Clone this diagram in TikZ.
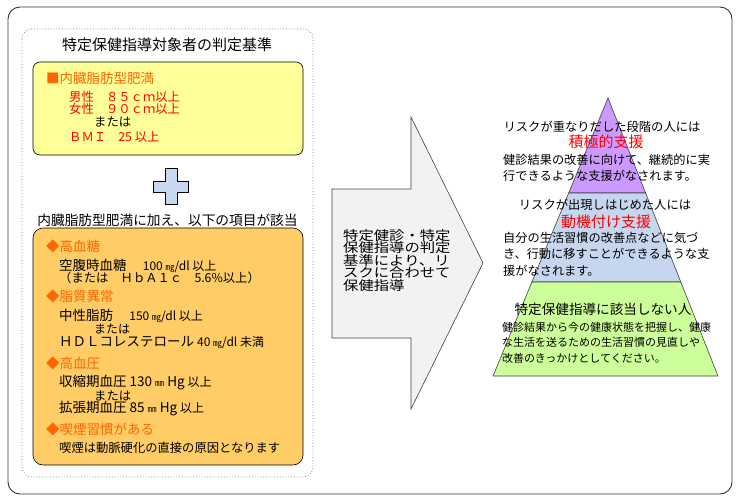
\documentclass[tikz,border=0pt]{standalone}
\usepackage{fontspec}
\setmainfont{Noto Sans CJK JP}
\newfontfamily\widefont{Noto Sans CJK JP}[FakeStretch=1.18]
\definecolor{yellowbox}{HTML}{FFFF99}
\definecolor{orangebox}{HTML}{FFCC66}
\definecolor{headorange}{HTML}{FF6600}
\definecolor{plusblue}{HTML}{C6D9F1}
\definecolor{pyrpurple}{HTML}{CC99FF}
\definecolor{pyrblue}{HTML}{C6D6EE}
\definecolor{pyrgreen}{HTML}{CCFF99}
\definecolor{arrowgray}{HTML}{F2F2F2}
\newcommand{\numsize}{\fontsize{12}{14}\selectfont}
\newcommand{\unitsize}{\fontsize{9}{11}\selectfont}
\newcommand{\tightlines}{\lineskiplimit=-20pt\relax\lineskip=0pt\relax}

\begin{document}
\begin{tikzpicture}[x=1pt, y=-1pt,
  linetext/.style={anchor=west, inner sep=0pt, font=\fontsize{13.5}{16}\selectfont},
  headtext/.style={linetext, text=headorange},
  redtext/.style={linetext, text=red, font=\fontsize{12.3}{14}\selectfont},
  smalltext/.style={linetext, font=\fontsize{12.3}{14}\selectfont},
  pyrline/.style={inner sep=0pt, font=\fontsize{12.3}{14}\selectfont},
  pyrhead/.style={inner sep=0pt, text=red, font=\fontsize{15}{17}\selectfont},
  pyrbody/.style={anchor=north west, inner sep=0pt, align=left},
  band/.style={draw=black!75, line width=0.6pt}]
\useasboundingbox (0,0) rectangle (739,501);
% frames
\draw[black!80, line width=0.9pt, rounded corners=12pt] (8,7) rectangle (732,494);
\draw[black!50, dotted, line width=0.8pt, rounded corners=10pt] (22,29) rectangle (313,477);
\node[inner sep=0pt, font=\fontsize{15}{17}\selectfont] (title) at (167,45) {特定保健指導対象者の判定基準};
% obesity box
\draw[fill=yellowbox, line width=0.6pt, rounded corners=7pt] (33,62) rectangle (303,155);
\node[headtext] (himan) at (46,78) {■内臓脂肪型肥満};
\node[redtext] (dansei) at (69,97) {男性　８５ｃｍ以上};
\node[redtext] (josei) at (69,109) {女性　９０ｃｍ以上};
\node[smalltext] (mata1) at (94,122) {または};
\node[redtext] (bmi) at (69,137) {ＢＭＩ　25 以上};
% plus sign
\draw[fill=plusblue, line width=0.6pt] (165,168) -- (177,168) -- (177,181) -- (188,181) -- (188,192) -- (177,192)
  -- (177,204) -- (165,204) -- (165,192) -- (153,192) -- (153,181) -- (165,181) -- cycle;
\node[inner sep=0pt, font=\fontsize{13.7}{16}\selectfont] (kuwae) at (167.5,220) {内臓脂肪型肥満に加え、以下の項目が該当};
% risk box
\draw[fill=orangebox, line width=0.6pt, rounded corners=10pt] (33,228) rectangle (303,465);
\node[headtext] (ketto) at (46,246) {◆高血糖};
\node[linetext] (kufuku) at (59,266) {空腹時血糖\hspace{1.2em}{\numsize 100 {\unitsize ㎎}/dl 以上}};
\node[smalltext] (hba) at (59,278) {（または　ＨｂＡ１ｃ　5.6\%以上）};
\node[headtext] (shishitsu) at (46,296) {◆脂質異常};
\node[linetext] (chusei) at (59,316) {中性脂肪\hspace{1.2em}{\numsize 150 {\unitsize ㎎}/dl 以上}};
\node[smalltext, font=\fontsize{12}{14}\selectfont] (mata2) at (94,329.5) {または};
\node[linetext] (hdl) at (59,343) {ＨＤＬコレステロール {\numsize 40 {\unitsize ㎎}/dl 未満}};
\node[headtext] (ketsuatsu) at (46,363) {◆高血圧};
\node[linetext] (shushuku) at (59,382) {収縮期血圧 130 {\unitsize ㎜} Hg {\numsize 以上}};
\node[smalltext] (mata3) at (94,396) {または};
\node[linetext] (kakucho) at (59,409) {拡張期血圧 85 {\unitsize ㎜} Hg {\numsize 以上}};
\node[headtext] (kitsuen) at (46,429) {◆喫煙習慣がある};
\node[smalltext] (genin) at (59,448) {喫煙は動脈硬化の直接の原因となります};
% big arrow
\draw[band, fill=arrowgray] (332,189) -- (411,189) -- (411,117) -- (483,263)
  -- (411,409) -- (411,338) -- (332,338) -- cycle;
\node[pyrbody, font=\widefont\fontsize{13}{12.5}\selectfont\tightlines] (shido) at (343,229)
  {特定健診・特定\\保健指導の判定\\基準により、リ\\スクに合わせて\\保健指導};
% pyramid
\draw[band, fill=pyrpurple] (608,98) -- (645.6,193) -- (568.7,193) -- cycle;
\draw[band, fill=pyrblue] (568.7,193) -- (645.6,193) -- (680.8,282) -- (531.9,282) -- cycle;
\draw[band, fill=pyrgreen] (531.9,282) -- (680.8,282) -- (718,376) -- (493,376) -- cycle;
\node[pyrline] (kasanari) at (602,127) {リスクが重なりだした段階の人には};
\node[pyrhead] (sekkyoku) at (606,142) {積極的支援};
\node[pyrbody, font=\fontsize{12.2}{16}\selectfont] (sekkyokubody) at (503,154)
  {健診結果の改善に向けて、継続的に実\\行できるような支援がなされます。};
\node[pyrline] (shutsugen) at (605,205) {リスクが出現しはじめた人には};
\node[pyrhead] (doki) at (606,222) {動機付け支援};
\node[pyrbody, font=\fontsize{12.2}{16.5}\selectfont] (dokibody) at (503,232)
  {自分の生活習慣の改善点などに気づ\\き、行動に移すことができるような支\\援がなされます。};
\node[pyrline, font=\fontsize{13.6}{16}\selectfont] (gaito) at (603,309) {特定保健指導に該当しない人};
\node[pyrbody, font=\fontsize{11}{15.5}\selectfont] (gaitobody) at (502,321.5)
  {健診結果から今の健康状態を把握し、健康\\な生活を送るための生活習慣の見直しや\\改善のきっかけとしてください。};
\end{tikzpicture}
\end{document}
